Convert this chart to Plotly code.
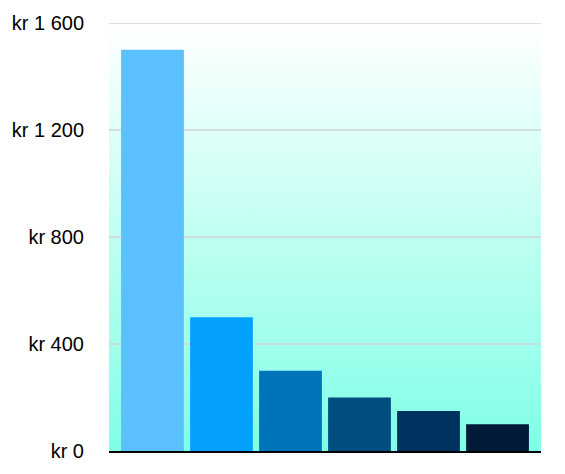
import plotly.graph_objects as go

# values
categories = ["A", "B", "C", "D", "E", "F"]
amounts = [1500, 500, 300, 200, 150, 100]
bar_colors = ["#5AC0FE", "#04A2FE", "#0074BA", "#004E80", "#00325F", "#001A37"]
tick_values = [0, 400, 800, 1200, 1600]
tick_labels = ["kr 0", "kr 400", "kr 800", "kr 1 200", "kr 1 600"]

y_max = tick_values[-1]
pad = 0.63  # extra room left/right of the bars, in category units
x_lo, x_hi = -pad, len(categories) - 1 + pad

fig = go.Figure()

# gradient plot background (white at top -> aquamarine at the bottom)
fig.add_trace(go.Scatter(
    x=[x_lo, x_hi, x_hi, x_lo, x_lo], y=[0, 0, y_max, y_max, 0],
    mode="lines", line=dict(width=0), fill="toself",
    fillgradient=dict(type="vertical", start=0, stop=y_max,
                      colorscale=[[0, "#7FFFE6"], [1, "#FFFFFF"]]),
    hoverinfo="skip", showlegend=False,
))

# grid lines, drawn over the gradient but under the bars
gx, gy = [], []
for v in tick_values[1:]:
    gx += [x_lo, x_hi, None]
    gy += [v, v, None]
fig.add_trace(go.Scatter(
    x=gx, y=gy, mode="lines", line=dict(color="#CFD6D6", width=1.3),
    hoverinfo="skip", showlegend=False,
))

# bars live on an overlaid axis pair so they sit on top of the grid
fig.add_trace(go.Bar(
    x=list(range(len(categories))), y=amounts,
    marker=dict(color=bar_colors, line=dict(width=0)),
    width=0.91, xaxis="x2", yaxis="y2", showlegend=False,
    hovertext=categories,
))

fig.update_layout(
    width=565, height=474,
    margin=dict(l=109, r=24, t=22, b=21),
    paper_bgcolor="white", plot_bgcolor="white",
    font=dict(family="Liberation Sans, Arial, sans-serif", size=20, color="black"),
    xaxis=dict(range=[x_lo, x_hi], showgrid=False, zeroline=False,
               showticklabels=False, ticks="", showline=True,
               linecolor="black", linewidth=2),
    yaxis=dict(range=[0, y_max], tickvals=tick_values, ticktext=tick_labels,
               showgrid=False, zeroline=False, ticks="", ticklabelstandoff=24),
    xaxis2=dict(range=[x_lo, x_hi], overlaying="x", visible=False),
    yaxis2=dict(range=[0, y_max], overlaying="y", visible=False),
)

# drop the browser's default 8px body margin so the chart sits at 0,0
fig.write_html("out.html", config={"displayModeBar": False},
               post_script="document.body.style.margin='0';")
